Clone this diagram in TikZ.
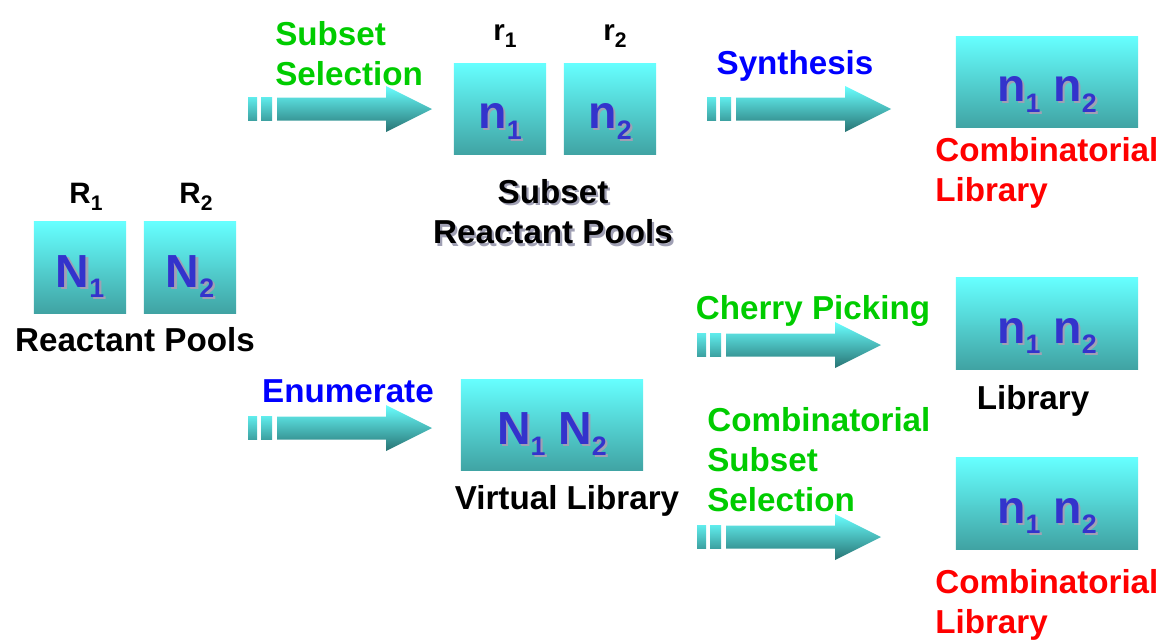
\documentclass[tikz,border=0pt]{standalone}
\usepackage{fontspec}
\setmainfont{Liberation Sans}
\definecolor{boxtop}{RGB}{102,255,255}
\definecolor{boxbottom}{RGB}{64,163,163}
\definecolor{arrowtop}{RGB}{105,255,255}
\definecolor{arrowbottom}{RGB}{40,115,115}
\definecolor{bartop}{RGB}{95,235,235}
\definecolor{barbottom}{RGB}{60,160,160}
\definecolor{poolblue}{RGB}{51,51,204}
\definecolor{shadowgray}{RGB}{160,160,180}
\definecolor{stepgreen}{RGB}{0,204,0}
\definecolor{stepblue}{RGB}{0,0,255}
\definecolor{libred}{RGB}{255,0,0}
% shadowed text, box text and lowered indices
\newcommand{\shadowed}[1]{\rlap{\kern1.6pt\raisebox{-1.6pt}{\color{shadowgray}#1}}#1}
\newcommand{\boxtext}[1]{\raisebox{-14pt}[0pt][0pt]{\shadowed{#1}}}
\newcommand{\lowidx}[1]{\raisebox{-7.5pt}{\fontsize{19}{19}\selectfont #1}}
\newcommand{\smallidx}[1]{\raisebox{-5pt}{\fontsize{15}{15}\selectfont #1}}
% block arrow: name, x of first bar, y of axis
\newcommand{\fatarrow}[3]{%
  \shade[top color=bartop, bottom color=barbottom] (#2,#3-11.5) rectangle ++(9,23);
  \shade[top color=bartop, bottom color=barbottom] (#2+13,#3-11.5) rectangle ++(11,23);
  \shade[top color=arrowtop, bottom color=arrowbottom]
    (#2+29,#3-11.5) -- (#2+138,#3-11.5) -- (#2+138,#3-23) -- (#2+184,#3)
    -- (#2+138,#3+23) -- (#2+138,#3+11.5) -- (#2+29,#3+11.5) -- cycle;
  \coordinate (#1) at (#2+184,#3);
}
\tikzset{
  pool/.style={rectangle, inner sep=0pt, minimum width=2.3cm, minimum height=2.28cm,
    top color=boxtop, bottom color=boxbottom, text=poolblue,
    font=\fontsize{33}{36}\selectfont\bfseries},
  widepool/.style={pool, minimum width=4.55cm},
  caption/.style={inner sep=0pt, font=\fontsize{23.6}{28.5}\selectfont\bfseries},
  poolname/.style={inner sep=0pt, font=\fontsize{21}{24}\selectfont\bfseries}
}
\begin{document}
\begin{tikzpicture}[x=0.025cm, y=-0.025cm]
  \useasboundingbox (0,0) rectangle (1162,639);

  % Reactant pools
  \node[pool] (N1) at (80,267.5) {\boxtext{N\lowidx{1}}};
  \node[pool] (N2) at (190,267.5) {\boxtext{N\lowidx{2}}};
  \node[poolname] (R1) at (86,197) {R\smallidx{1}};
  \node[poolname] (R2) at (196,197) {R\smallidx{2}};
  \node[caption] (pools) at (135,340) {Reactant Pools};

  % Subset reactant pools
  \node[pool] (n1) at (500,109) {\boxtext{n\lowidx{1}}};
  \node[pool] (n2) at (610,109) {\boxtext{n\lowidx{2}}};
  \node[poolname] (r1) at (505,36) {r\smallidx{1}};
  \node[poolname] (r2) at (615,36) {r\smallidx{2}};
  \node[caption, align=center] (subpools) at (553,213)
    {\shadowed{Subset}\\\shadowed{Reactant Pools}};

  % Libraries
  \node[widepool] (comblib) at (1047,82) {\boxtext{n\lowidx{1} n\lowidx{2}}};
  \node[caption, align=left, anchor=west, text=libred] (comblibtxt) at (935,173)
    {Combinatorial\\Library};
  \node[widepool] (virtlib) at (552,425) {\boxtext{N\lowidx{1} N\lowidx{2}}};
  \node[caption] (virtlibtxt) at (567,501) {Virtual Library};
  \node[widepool] (cherrylib) at (1047,323.5) {\boxtext{n\lowidx{1} n\lowidx{2}}};
  \node[caption] (cherrylibtxt) at (1033,401) {Library};
  \node[widepool] (subsetlib) at (1047,503.5) {\boxtext{n\lowidx{1} n\lowidx{2}}};
  \node[caption, align=left, anchor=west, text=libred] (subsetlibtxt) at (935,605)
    {Combinatorial\\Library};

  % Arrows
  \fatarrow{selarrow}{248}{109}
  \fatarrow{synarrow}{707}{109}
  \fatarrow{enumarrow}{248}{428}
  \fatarrow{cherryarrow}{697}{345}
  \fatarrow{cssarrow}{697}{537}

  % Arrow captions
  \node[caption, align=left, anchor=west, text=stepgreen] (seltxt) at (275,54)
    {Subset\\Selection};
  \node[caption, text=stepblue] (syntxt) at (795,66) {Synthesis};
  \node[caption, text=stepblue] (enumtxt) at (348,391) {Enumerate};
  \node[caption, text=stepgreen] (cherrytxt) at (813,311) {Cherry Picking};
  \node[caption, align=left, anchor=west, text=stepgreen] (csstxt) at (707,460)
    {Combinatorial\\Subset\\Selection};
\end{tikzpicture}
\end{document}
